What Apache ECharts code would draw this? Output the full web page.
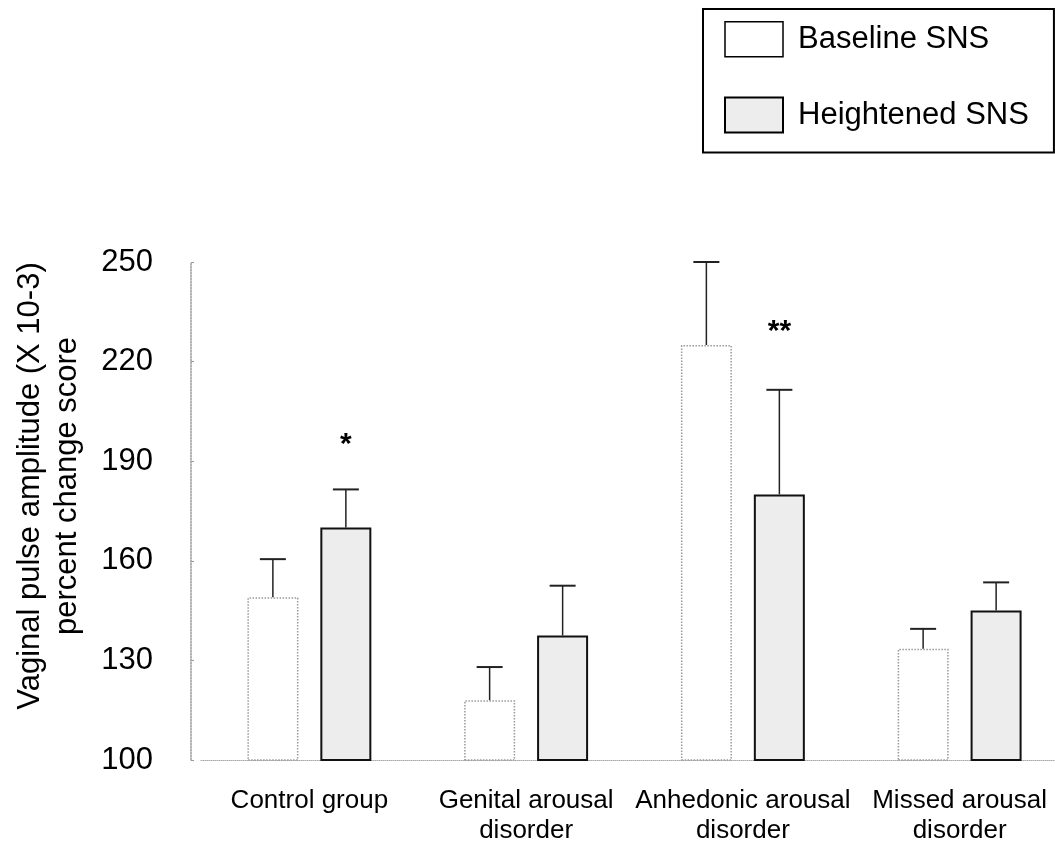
<!DOCTYPE html>
<html>
<head>
<meta charset="utf-8">
<script src="https://cdn.jsdelivr.net/npm/echarts@6/dist/echarts.min.js"></script>
<style>
html,body{margin:0;padding:0;background:#fff;overflow:hidden;width:1055px;height:846px;}
#chart{width:1072px;height:846px;}
</style>
</head>
<body>
<div id="chart"></div>
<script>
// ---- data ----
const categories = ['Control group', 'Genital arousal\ndisorder', 'Anhedonic arousal\ndisorder', 'Missed arousal\ndisorder'];
const seriesNames = ['Baseline SNS', 'Heightened SNS'];
const baselineValues = [149, 118, 225, 133.5];
const baselineErrTop = [160.5, 128, 250, 139.5];
const heightenedValues = [170, 137.5, 180, 145];
const heightenedErrTop = [181.5, 152.5, 211.5, 153.5];
const significance = ['*', '', '**', ''];
const significanceY = [195, null, 229, null];
const yTicks = { min: 100, max: 250, interval: 30 };

const FONT = "'Liberation Sans', Arial, Helvetica, sans-serif";
const BAR_W = 51;
const HALF_STEP = 36.5; // bar centre offset from category centre

function errorRenderer(offset) {
  return function (params, api) {
    const x = api.value(0);
    const base = api.coord([x, api.value(1)]);
    const top = api.coord([x, api.value(2)]);
    const cx = base[0] + offset;
    return {
      type: 'group',
      children: [
        { type: 'line', shape: { x1: cx, y1: base[1], x2: cx, y2: top[1] }, style: { stroke: '#222', lineWidth: 1.5 } },
        { type: 'line', shape: { x1: cx - 13, y1: top[1], x2: cx + 13, y2: top[1] }, style: { stroke: '#222', lineWidth: 2 } }
      ]
    };
  };
}

const chart = echarts.init(document.getElementById('chart'), null, { renderer: 'canvas' });
chart.setOption({
  backgroundColor: '#fff',
  animation: false,
  textStyle: { fontFamily: FONT, color: '#000' },
  legend: {
    orient: 'vertical',
    left: 703,
    top: 9,
    padding: [12, 25, 19, 21],
    itemWidth: 58,
    itemHeight: 35,
    itemGap: 39,
    borderColor: '#000',
    borderWidth: 2,
    icon: 'rect',
    textStyle: { fontFamily: FONT, fontSize: 31, color: '#000', padding: [0, 0, 0, 10] },
    data: [
      { name: seriesNames[0], itemStyle: { color: '#fff', borderColor: '#000', borderWidth: 1.5, borderType: 'solid' } },
      { name: seriesNames[1], itemStyle: { color: '#ededed', borderColor: '#000', borderWidth: 2, borderType: 'solid' } }
    ]
  },
  grid: { left: 201, top: 262, width: 867, height: 505, containLabel: false },
  xAxis: {
    type: 'category',
    data: categories,
    axisLine: { show: true, lineStyle: { color: '#aaa', type: 'dotted', width: 1 } },
    axisTick: { show: false },
    axisLabel: { interval: 0, fontFamily: FONT, fontSize: 26, lineHeight: 30, color: '#000', margin: 26 }
  },
  yAxis: {
    type: 'value',
    min: yTicks.min,
    max: yTicks.max,
    interval: yTicks.interval,
    offset: 10,
    splitLine: { show: false },
    axisLine: { show: true, lineStyle: { color: '#999', type: 'dotted', width: 1.5 } },
    axisTick: { show: true, inside: true, length: 3, lineStyle: { color: '#999' } },
    axisLabel: { fontFamily: FONT, fontSize: 31, color: '#000', margin: 38 },
    name: 'Vaginal pulse amplitude (X 10-3)\npercent change score',
    nameLocation: 'middle',
    nameGap: 105,
    nameTextStyle: { fontFamily: FONT, fontSize: 31, lineHeight: 37, color: '#000', padding: [0, 0, 0, 50] }
  },
  series: [
    {
      name: seriesNames[0],
      type: 'bar',
      data: baselineValues,
      barWidth: BAR_W,
      barGap: '43%',
      itemStyle: { color: '#fff', borderColor: '#999', borderWidth: 1.5, borderType: 'dotted' }
    },
    {
      name: seriesNames[1],
      type: 'bar',
      data: heightenedValues,
      barWidth: BAR_W,
      barGap: '43%',
      itemStyle: { color: '#ededed', borderColor: '#111', borderWidth: 2 }
    },
    {
      type: 'custom',
      name: 'err-baseline',
      renderItem: errorRenderer(-HALF_STEP),
      data: categories.map((c, i) => [i, baselineValues[i], baselineErrTop[i]]),
      z: 5
    },
    {
      type: 'custom',
      name: 'err-heightened',
      renderItem: errorRenderer(HALF_STEP),
      data: categories.map((c, i) => [i, heightenedValues[i], heightenedErrTop[i]]),
      z: 5
    },
    {
      type: 'custom',
      name: 'signif',
      renderItem: function (params, api) {
        const i = api.value(0);
        const label = significance[i];
        if (!label) return null;
        const p = api.coord([i, api.value(1)]);
        return {
          type: 'text',
          x: p[0] + HALF_STEP,
          y: p[1],
          style: { text: label, font: 'bold 30px ' + FONT, fill: '#000', textAlign: 'center', textVerticalAlign: 'middle' }
        };
      },
      data: categories.map((c, i) => [i, significanceY[i] == null ? yTicks.min : significanceY[i]]),
      z: 6
    }
  ]
});
</script>
</body>
</html>
